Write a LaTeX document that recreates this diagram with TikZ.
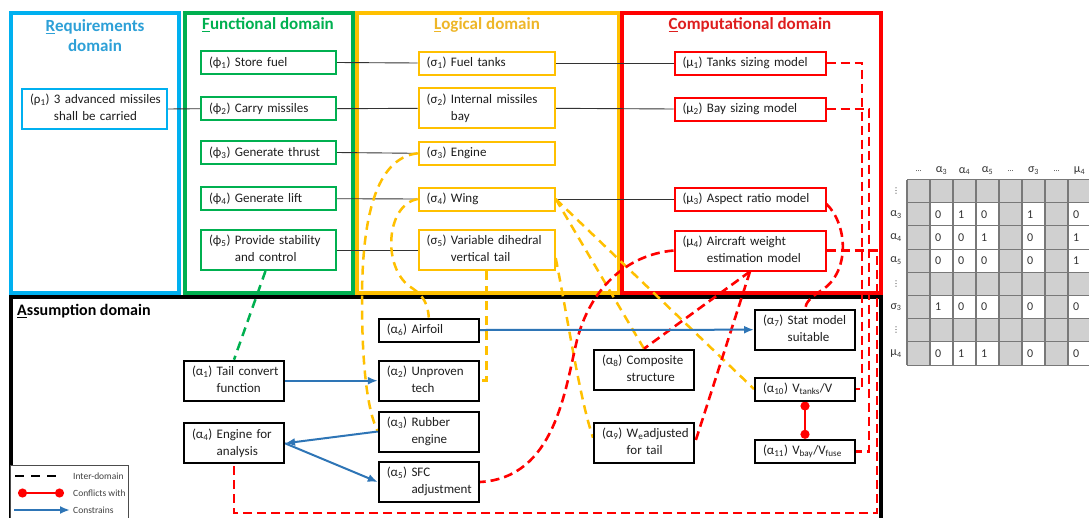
\documentclass[tikz,border=0pt]{standalone}
\usepackage{fontspec}
\setmainfont{Carlito}
\newfontfamily\djv{DejaVu Sans}
\usetikzlibrary{arrows.meta}
\pgfdeclarelayer{bg}
\pgfdeclarelayer{mid}
\pgfsetlayers{bg,mid,main}
\definecolor{cReq}{RGB}{0,176,240}
\definecolor{cReqT}{RGB}{45,160,215}
\definecolor{cFun}{RGB}{0,176,80}
\definecolor{cLog}{RGB}{255,192,0}
\definecolor{cLogT}{RGB}{238,182,40}
\definecolor{cCom}{RGB}{255,0,0}
\definecolor{cComT}{RGB}{222,30,30}
\definecolor{cArr}{RGB}{46,117,182}
\definecolor{cGray}{RGB}{208,208,208}
\definecolor{cGrid}{RGB}{120,120,120}
\definecolor{cTxt}{RGB}{30,30,30}
\newcommand\sbs[1]{\textsubscript{#1}}
\newcommand\twol[3]{\begin{tabular}{@{}l@{\ }l@{}}#1&#2\\&#3\end{tabular}}
\newcommand\smdots{{\fontsize{8}{9}\selectfont …}}
\newcommand\smvdots{{\djv\fontsize{8}{9}\selectfont ⋮}}
\tikzset{
 dom/.style={line width=4pt},
 ttl/.style={font=\fontsize{17}{20}\selectfont\bfseries, inner sep=0pt, align=center},
 bx/.style={draw, line width=2pt, fill=white, inner xsep=8pt, inner ysep=0pt, align=left, text=cTxt,
   font=\fontsize{13}{17}\selectfont, execute at begin node={\setlength{\parindent}{0pt}}},
 h1/.style={minimum height=23pt},
 h2/.style={minimum height=40pt},
 rb/.style={bx, draw=cReq, text width=129pt},
 fb/.style={bx, draw=cFun, text width=119pt},
 lb/.style={bx, draw=cLog, text width=120pt},
 cb/.style={bx, draw=cCom, text width=135pt},
 ab/.style={bx, draw=black, text width=84pt},
 thinl/.style={line width=0.9pt, draw=black!80},
 ldash/.style={line width=2.5pt, draw=cLog, dash pattern=on 9pt off 6pt},
 cdash/.style={line width=2.6pt, draw=cCom, dash pattern=on 9pt off 5pt},
 fdash/.style={line width=2.5pt, draw=cFun, dash pattern=on 9pt off 6pt},
 idash/.style={line width=2pt, draw=black, dash pattern=on 9pt off 7pt},
 cons/.style={line width=2pt, draw=cArr, arrows={-Latex[length=10pt,width=8pt]}},
 confl/.style={line width=2.5pt, draw=cCom, arrows={Circle[length=9pt]-Circle[length=9pt]}},
 legt/.style={font=\fontsize{9.5}{11}\selectfont, text=black!75, anchor=west, inner sep=0pt},
 mtx/.style={font=\fontsize{12}{14}\selectfont, text=black!80, inner sep=0pt},
 gridl/.style={line width=1.1pt, draw=cGrid},
}
\begin{document}
\begin{tikzpicture}[x=1pt,y=-1pt]
\useasboundingbox (0,0) rectangle (1089,517);

% domains
\begin{pgfonlayer}{bg}
\fill[white] (0,0) rectangle (1089,517);
\draw[dom, draw=cReq] (10.5,12.5) rectangle (179,292.5);
\draw[dom, draw=cFun] (185,12.5) rectangle (353,292.5);
\draw[dom, draw=cLog] (357,12.5) rectangle (618.5,292.5);
\draw[dom, draw=cCom] (622,12.5) rectangle (880.5,292.5);
\draw[dom, draw=black] (10.5,296.5) rectangle (880.5,530);
\end{pgfonlayer}

\node[ttl, text=cReqT] (tReq) at (95,36) {\underline{R}equirements\\domain};
\node[ttl, text=cFun] (tFun) at (268,25) {\underline{F}unctional domain};
\node[ttl, text=cLogT] (tLog) at (487,25) {\underline{L}ogical domain};
\node[ttl, text=cComT] (tCom) at (750,25) {\underline{C}omputational domain};
\node[ttl, font=\fontsize{16}{19}\selectfont\bfseries, anchor=west] (tAss) at (17,311) {\underline{A}ssumption domain};

% requirement / functional
\node[rb,h2] (r1) at (94.5,109) {\twol{(ρ\sbs1)}{3 advanced missiles}{shall be carried}};
\node[fb,h1] (f1) at (268.5,62.5) {(ϕ\sbs1) Store fuel};
\node[fb,h1] (f2) at (268.5,108.7) {(ϕ\sbs2) Carry missiles};
\node[fb,h1] (f3) at (268.5,152.5) {(ϕ\sbs3) Generate thrust};
\node[fb,h1] (f4) at (268.5,198.7) {(ϕ\sbs4) Generate lift};
\node[fb,h2] (f5) at (268.5,250) {\twol{(ϕ\sbs5)}{Provide stability}{and control}};
% logical
\node[lb,h1] (s1) at (486.7,63) {(σ\sbs1) Fuel tanks};
\node[lb,h2] (s2) at (486.7,108.3) {\twol{(σ\sbs2)}{Internal missiles}{bay}};
\node[lb,h1] (s3) at (486.7,153.3) {(σ\sbs3) Engine};
\node[lb,h1] (s4) at (486.7,199) {(σ\sbs4) Wing};
\node[lb,h2] (s5) at (486.7,250) {\twol{(σ\sbs5)}{Variable dihedral}{vertical tail}};
% computational
\node[cb,h1] (m1) at (750,63) {(μ\sbs1) Tanks sizing model};
\node[cb,h1] (m2) at (750,109) {(μ\sbs2) Bay sizing model};
\node[cb,h1] (m3) at (750,199) {(μ\sbs3) Aspect ratio model};
\node[cb,h2] (m4) at (750,250.5) {\twol{(μ\sbs4)}{Aircraft weight}{estimation model}};
% assumptions
\node[ab,h1] (a6) at (428.8,330) {(α\sbs6) Airfoil};
\node[ab,h2] (a1) at (234,380.7) {\twol{(α\sbs1)}{Tail convert}{function}};
\node[ab,h2] (a2) at (428.8,380.7) {\twol{(α\sbs2)}{Unproven}{tech}};
\node[ab,h2] (a3) at (428.8,431.5) {\twol{(α\sbs3)}{Rubber}{engine}};
\node[ab,h2] (a4) at (234,443.3) {\twol{(α\sbs4)}{Engine for}{analysis}};
\node[ab,h2] (a5) at (428.8,482) {\twol{(α\sbs5)}{SFC}{adjustment}};
\node[ab,h2] (a7) at (805,329.7) {\twol{(α\sbs7)}{Stat model}{suitable}};
\node[ab,h2] (a8) at (644,369.7) {\twol{(α\sbs8)}{Composite}{structure}};
\node[ab,h2] (a9) at (644,442.7) {\twol{(α\sbs9)}{W\sbs{e}adjusted}{for tail}};
\node[ab,h1] (a10) at (805,389) {(α\sbs{10}) V\sbs{tanks}/V};
\node[ab,h1] (a11) at (805,451.3) {(α\sbs{11}) V\sbs{bay}/V\sbs{fuse}};

\begin{pgfonlayer}{mid}
% traceability lines
\draw[thinl] (r1.east) -- (f2.west);
\draw[thinl] (f1.east) -- (s1.west);
\draw[thinl] (f2.east) -- (s2.west);
\draw[thinl] (f3.east) -- (s3.west);
\draw[thinl] (f4.east) -- (s4.west);
\draw[thinl] (f5.east) -- (s5.west);
\draw[thinl] (s1.east) -- (m1.west);
\draw[thinl] (s2.east) -- (m2.west);
\draw[thinl] (s4.east) -- (m3.west);
% green
\draw[fdash] ([xshift=-3pt]f5.south) -- (a1.north);
% orange
\draw[ldash] (s3.west) .. controls (375,158) and (362,220) .. (362,300) .. controls (362,370) and (368,412) .. (a3.west);
\draw[ldash] (s4.west) .. controls (385,205) and (382,270) .. (412,288) .. controls (424,296) and (428,305) .. (a6.north);
\draw[ldash] (s5.south) |- (a2.east);
\draw[ldash] ([yshift=-8pt]s5.east) .. controls (568,320) and (580,400) .. ([yshift=5pt]a9.west);
\draw[ldash] (s4.east) -- (a8.north);
\draw[ldash] (s4.east) -- (a10.west);
% red
\coordinate (rc) at (877,513);
\draw[cdash] (m1.east) -| ([xshift=6pt]a10.east) -- (a10.east);
\draw[cdash] (m2.east) -| ([xshift=13pt]a11.east) -- (a11.east);
\draw[cdash] (m4.east) -| (rc) -| (a4.south);
\draw[cdash] ([yshift=-5pt]m3.east) .. controls (848,225) and (850,272) .. (822,290) .. controls (811,297) and (806,302) .. (a7.north);
\draw[cdash] (m4.west) .. controls (625,255) and (590,290) .. (577,340) .. controls (565,390) and (555,478) .. (a5.east);
\draw[cdash] (m4.south) -- (a8.north);
\draw[cdash] (m4.south) -- (a9.east);
% constrains
\draw[cons] (a1.east) -- (a2.west);
\draw[cons] (a3.west) -- (a4.east);
\draw[cons] (a4.east) -- (a5.west);
\draw[cons] (a6.east) -- (a7.west);
% conflict
\draw[confl] (a10.south) -- (a11.north);
\end{pgfonlayer}

% legend
\draw[line width=0.8pt, draw=black!70, fill=white] (10,465) rectangle (128,530);
\coordinate (l1a) at (15,476); \coordinate (l1b) at (62,476);
\coordinate (l2a) at (18,493); \coordinate (l2b) at (64,493);
\coordinate (l3a) at (14,510); \coordinate (l3b) at (70,510);
\draw[idash] (l1a) -- (l1b);
\draw[confl, line width=2pt] (l2a) -- (l2b);
\draw[cons] (l3a) -- (l3b);
\node[legt] (lt1) at (73,476) {Inter-domain};
\node[legt] (lt2) at (73,493) {Conflicts with};
\node[legt] (lt3) at (73,510) {Constrains};

% matrix
\fill[cGray] (907,179.5) rectangle (1091,365.1);
\foreach \ra in {1,2,3,5,7} \foreach \ca in {1,2,3,5,7}
  \fill[white] ({907+23*\ca},{179.5+23.2*\ra}) rectangle ++(23,23.2);
\foreach \ca in {0,...,8} \draw[gridl] ({907+23*\ca},179.5) -- ({907+23*\ca},365.1);
\foreach \ra in {0,...,8} \draw[gridl] (907,{179.5+23.2*\ra}) -- (1091,{179.5+23.2*\ra});
\foreach \ra/\va/\vb/\vc/\vd/\ve in {1/0/1/0/1/0, 2/0/0/1/0/1, 3/0/0/0/0/1, 5/1/0/0/0/0, 7/0/1/1/0/0} {
  \node[mtx, anchor=west] (v\ra a) at ({907+23*1+5},{179.5+23.2*\ra+11.6}) {\va};
  \node[mtx, anchor=west] (v\ra b) at ({907+23*2+5},{179.5+23.2*\ra+11.6}) {\vb};
  \node[mtx, anchor=west] (v\ra c) at ({907+23*3+5},{179.5+23.2*\ra+11.6}) {\vc};
  \node[mtx, anchor=west] (v\ra d) at ({907+23*5+5},{179.5+23.2*\ra+11.6}) {\vd};
  \node[mtx, anchor=west] (v\ra e) at ({907+23*7+5},{179.5+23.2*\ra+11.6}) {\ve};
}
\foreach \ca/\tx in {0/\smdots, 1/α\sbs3, 2/α\sbs4, 3/α\sbs5, 4/\smdots, 5/σ\sbs3, 6/\smdots, 7/μ\sbs4}
  \node[mtx] (hd\ca) at ({907+23*\ca+11.5},171) {\tx};
\foreach \ra/\tx in {0/\smvdots, 1/α\sbs3, 2/α\sbs4, 3/α\sbs5, 4/\smvdots, 5/σ\sbs3, 6/\smvdots, 7/μ\sbs4}
  \node[mtx] (rl\ra) at (896,{179.5+23.2*\ra+11.6}) {\tx};
\end{tikzpicture}
\end{document}
